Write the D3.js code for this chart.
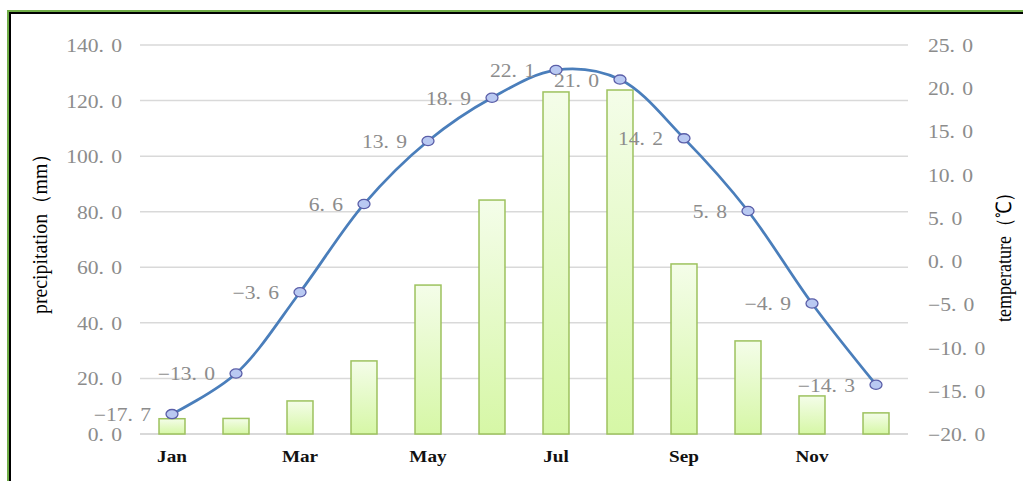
<!DOCTYPE html>
<html><head><meta charset="utf-8">
<script src="https://cdn.jsdelivr.net/npm/d3@7"></script>
<style>html,body{margin:0;padding:0;background:#fff;overflow:hidden}</style>
</head><body>
<svg id="c" width="1023" height="481"></svg>
<script>
const months = ["Jan","Feb","Mar","Apr","May","Jun","Jul","Aug","Sep","Oct","Nov","Dec"];
const precipitation = [5.5, 5.6, 11.9, 26.3, 53.6, 84.2, 123.1, 123.8, 61.2, 33.5, 13.7, 7.6];
const temperature = [-17.7, -13.0, -3.6, 6.6, 13.9, 18.9, 22.1, 21.0, 14.2, 5.8, -4.9, -14.3];
const leftTicks = [0, 20, 40, 60, 80, 100, 120, 140];
const rightTicks = [-20, -15, -10, -5, 0, 5, 10, 15, 20, 25];
const monthLabels = ["Jan","Mar","May","Jul","Sep","Nov"];
const leftTitle = "precipitation（mm）";
const rightTitle = "temperature（℃）";

const svg = d3.select("#c");
const X0 = 140, X1 = 908, Y0 = 434, Y1 = 45;
const x = d3.scaleBand().domain(months).range([X0, X1]).paddingInner(0.594).paddingOuter(0.297);
const yL = d3.scaleLinear().domain([0, 140]).range([Y0, Y1]);
const yR = d3.scaleLinear().domain([-20, 25]).range([Y0, Y1]);
const fmt = d3.format(".1f");
const SX = 1.2;
const grey = "#8c8c8c";

// border
svg.append("path").attr("d", "M8,481V11H1023").attr("fill", "none").attr("stroke", "#70ad47").attr("stroke-width", 2);
svg.append("path").attr("d", "M10,481V13H1023").attr("fill", "none").attr("stroke", "#000").attr("stroke-width", 2);

// gradient
const defs = svg.append("defs");
const grad = defs.append("linearGradient").attr("id", "bg").attr("x1", 0).attr("y1", 0).attr("x2", 0).attr("y2", 1);
grad.append("stop").attr("offset", "0%").attr("stop-color", "#f4fde9");
grad.append("stop").attr("offset", "100%").attr("stop-color", "#d6f7a6");

// gridlines
svg.append("g").selectAll("line").data(leftTicks).join("line")
  .attr("x1", X0).attr("x2", X1)
  .attr("y1", d => yL(d)).attr("y2", d => yL(d))
  .attr("stroke", "#d9d9d9").attr("stroke-width", d => d === 0 ? 2 : 1.5);

function numText(g, v, tx, ty, anchor) {
  const s = fmt(v);
  const i = s.indexOf(".");
  const t = g.append("text")
    .attr("transform", `translate(${tx},${ty}) scale(${SX},1)`)
    .attr("text-anchor", anchor)
    .attr("font-family", "Liberation Serif, serif")
    .attr("font-size", 18)
    .attr("fill", grey);
  t.append("tspan").text(s.slice(0, i + 1));
  t.append("tspan").attr("dx", 6).text(s.slice(i + 1));
  return t;
}

// left axis labels
const gl = svg.append("g");
leftTicks.forEach(d => numText(gl, d, 122, yL(d) + 7, "end"));
// right axis labels
const gr = svg.append("g");
rightTicks.forEach(d => numText(gr, d, 928, yR(d) + 7, "start"));

// bars
svg.append("g").selectAll("rect").data(precipitation).join("rect")
  .attr("x", (d, i) => x(months[i]))
  .attr("width", x.bandwidth())
  .attr("y", d => yL(d))
  .attr("height", d => Y0 - yL(d))
  .attr("fill", "url(#bg)")
  .attr("stroke", "#9dc25e").attr("stroke-width", 1.5);

// month labels
svg.append("g").selectAll("text").data(monthLabels).join("text")
  .attr("transform", d => `translate(${x(d) + x.bandwidth() / 2},462) scale(${SX},1)`)
  .attr("text-anchor", "middle")
  .attr("font-family", "Liberation Serif, serif")
  .attr("font-weight", "bold")
  .attr("font-size", 16)
  .attr("fill", "#111")
  .text(d => d);

// line
const cx = i => x(months[i]) + x.bandwidth() / 2;
const line = d3.line().x((d, i) => cx(i)).y(d => yR(d)).curve(d3.curveCatmullRom.alpha(0.5));
svg.append("path").datum(temperature).attr("d", line)
  .attr("fill", "none").attr("stroke", "#4a7ebb").attr("stroke-width", 2.75);

svg.append("g").selectAll("ellipse").data(temperature).join("ellipse")
  .attr("cx", (d, i) => cx(i)).attr("cy", d => yR(d))
  .attr("rx", 6).attr("ry", 4.6)
  .attr("fill", "#b9c9f2").attr("stroke", "#5a5ea8").attr("stroke-width", 1.3);

// data labels
const gd = svg.append("g");
temperature.forEach((d, i) => numText(gd, d, cx(i) - 21, yR(d) + 7, "end"));

// axis titles
svg.append("text")
  .attr("transform", `translate(47,229) rotate(-90) scale(1.1,1.15)`)
  .attr("text-anchor", "middle")
  .attr("font-family", "Liberation Serif, serif")
  .attr("font-size", 18).attr("fill", "#000")
  .text(leftTitle);
svg.append("text")
  .attr("transform", `translate(1011,253) rotate(-90) scale(1.0,1.15)`)
  .attr("text-anchor", "middle")
  .attr("font-family", "Liberation Serif, serif")
  .attr("font-size", 18).attr("fill", "#000")
  .text(rightTitle);
</script>
</body></html>
